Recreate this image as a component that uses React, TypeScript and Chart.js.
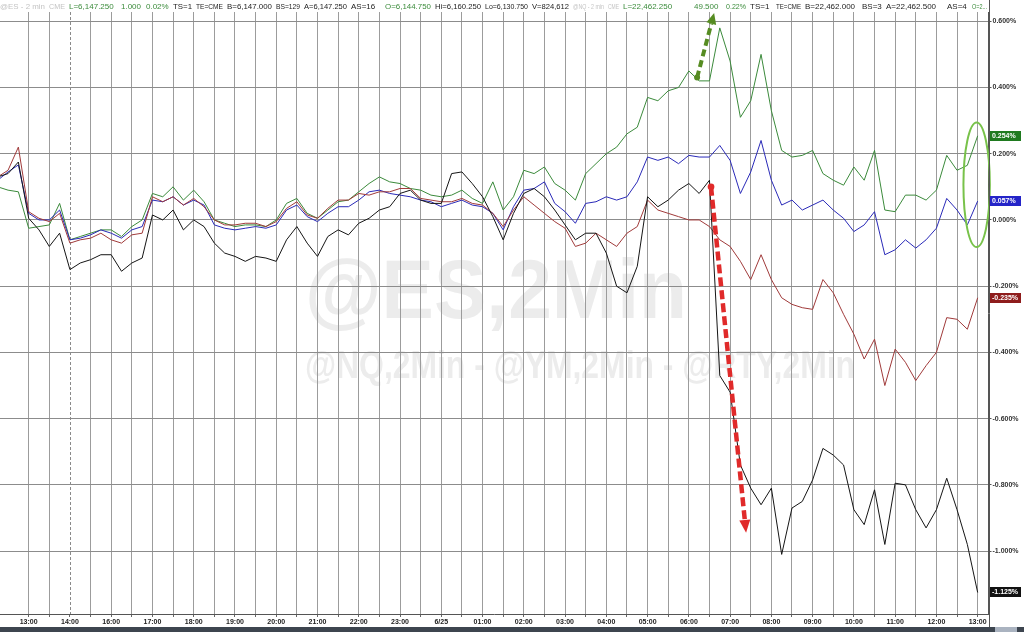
import React, { useEffect, useRef } from "react";
import { Chart, registerables } from "chart.js";

Chart.register(...registerables);

// Hour labels on the time axis (one label per hour, first one at sample 3, 4 samples per hour)
const HOUR_LABELS = ["13:00", "14:00", "16:00", "17:00", "18:00", "19:00", "20:00", "21:00", "22:00", "23:00", "6/25", "01:00", "02:00", "03:00", "04:00", "05:00", "06:00", "07:00", "08:00", "09:00", "10:00", "11:00", "12:00", "13:00"];
const Y_TICKS = [0.6, 0.4, 0.2, 0, -0.2, -0.4, -0.6, -0.8, -1.0];

// % change, one value every 15 minutes
const NQ = [
  0.10, 0.09, 0.085, -0.025, -0.02, -0.015, 0.05, -0.06, -0.05, -0.04,
  -0.03, -0.03, -0.05, -0.02, 0.0, 0.08, 0.07, 0.10, 0.06, 0.09,
  0.055, 0.0, -0.01, -0.02, -0.015, -0.015, -0.02, 0.0, 0.05, 0.065,
  0.02, 0.005, 0.03, 0.055, 0.06, 0.085, 0.11, 0.13, 0.115, 0.11,
  0.095, 0.09, 0.075, 0.07, 0.075, 0.09, 0.065, 0.05, 0.115, 0.03,
  0.07, 0.15, 0.14, 0.16, 0.11, 0.09, 0.06, 0.14, 0.17, 0.20,
  0.22, 0.26, 0.28, 0.37, 0.36, 0.39, 0.40, 0.45, 0.42, 0.42,
  0.58, 0.48, 0.31, 0.36, 0.50, 0.33, 0.21, 0.19, 0.195, 0.21,
  0.14, 0.12, 0.105, 0.16, 0.12, 0.21, 0.03, 0.025, 0.075, 0.075,
  0.06, 0.09, 0.195, 0.15, 0.165, 0.254,
];
const ES = [
  0.12, 0.145, 0.166, 0.02, 0.0, 0.0, 0.03, -0.06, -0.055, -0.045,
  -0.03, -0.04, -0.055, -0.03, -0.02, 0.06, 0.055, 0.07, 0.045, 0.06,
  0.045, -0.015, -0.025, -0.03, -0.025, -0.02, -0.025, -0.015, 0.03, 0.045,
  0.01, -0.005, 0.02, 0.04, 0.04, 0.06, 0.085, 0.09, 0.08, 0.075,
  0.07, 0.06, 0.055, 0.04, 0.05, 0.06, 0.045, 0.04, 0.02, -0.03,
  0.04, 0.09, 0.095, 0.115, 0.05, 0.025, -0.01, 0.05, 0.055, 0.07,
  0.06, 0.07, 0.115, 0.19, 0.18, 0.19, 0.17, 0.195, 0.19, 0.19,
  0.225, 0.18, 0.08, 0.145, 0.24, 0.12, 0.045, 0.06, 0.03, 0.045,
  0.06, 0.03, 0.005, -0.035, -0.015, 0.025, -0.105, -0.09, -0.06, -0.085,
  -0.06, -0.025, 0.065, 0.03, -0.015, 0.057,
];
const YM = [
  0.13, 0.15, 0.22, 0.025, 0.005, -0.005, 0.02, -0.07, -0.06, -0.055,
  -0.04, -0.06, -0.07, -0.045, -0.04, 0.07, 0.055, 0.07, 0.045, 0.065,
  0.04, 0.0, -0.015, -0.015, -0.01, -0.01, -0.02, -0.005, 0.035, 0.055,
  0.015, 0.005, 0.035, 0.06, 0.06, 0.08, 0.075, 0.085, 0.085, 0.095,
  0.095, 0.065, 0.06, 0.055, 0.055, 0.065, 0.05, 0.045, 0.02, -0.02,
  0.03, 0.07, 0.045, 0.02, -0.005, -0.025, -0.08, -0.07, -0.04, -0.06,
  -0.08, -0.04, -0.02, 0.06, 0.03, 0.02, 0.01, 0.0, 0.0, -0.02,
  -0.06, -0.08, -0.125, -0.18, -0.105, -0.18, -0.235, -0.255, -0.265, -0.27,
  -0.18, -0.22, -0.285, -0.345, -0.42, -0.36, -0.5, -0.39, -0.43, -0.485,
  -0.44, -0.40, -0.295, -0.30, -0.33, -0.235,
];
const RTY = [
  0.13, 0.14, 0.175, 0.005, -0.03, -0.08, -0.04, -0.15, -0.13, -0.12,
  -0.105, -0.105, -0.155, -0.13, -0.115, 0.015, 0.0, 0.03, -0.03, 0.0,
  -0.02, -0.07, -0.10, -0.11, -0.125, -0.11, -0.115, -0.125, -0.06, -0.02,
  -0.07, -0.11, -0.05, -0.03, -0.045, -0.01, 0.005, 0.03, 0.04, 0.08,
  0.09, 0.06, 0.05, 0.05, 0.14, 0.145, 0.11, 0.07, 0.01, -0.06,
  0.02, 0.08, 0.095, 0.07, 0.03, -0.015, -0.06, -0.04, -0.04, -0.10,
  -0.20, -0.22, -0.14, 0.07, 0.04, 0.06, 0.09, 0.11, 0.08, 0.12,
  -0.47, -0.52, -0.74, -0.81, -0.86, -0.81, -1.01, -0.87, -0.85, -0.785,
  -0.69, -0.71, -0.74, -0.875, -0.92, -0.815, -0.98, -0.795, -0.80, -0.875,
  -0.93, -0.875, -0.78, -0.875, -0.98, -1.125,
];

const FIRST_HOUR_SAMPLE = 3;
const SAMPLES_PER_HOUR = 4;
const SESSION_BREAK_SAMPLE = 7; // 14:00 dashed line

// annotations in data coordinates [sample, %]
const GREEN_ARROW = { from: [67.8, 0.43], to: [69.45, 0.625] };
const RED_ARROW = { from: [69.15, 0.10], to: [72.55, -0.945] };
const ELLIPSE = { center: [94.9, 0.106], rx: 1.28, ry: 0.188 };

const FONT = '"Liberation Sans", Arial, Helvetica, sans-serif';
const C_GREEN = "#3b8a3b";
const C_BLUE = "#2a2ab8";
const C_RED = "#a03a3a";
const C_BLACK = "#151515";
const H_GREY = "#c4c4c4";
const H_GREEN = "#3c8c3c";
const H_BLACK = "#222222";

const HEADER: [string, string, number][] = [
  ["@ES - 2 min", H_GREY, 0],
  ["CME", H_GREY, 49],
  ["L=6,147.250", H_GREEN, 69],
  ["1.000", H_GREEN, 121],
  ["0.02%", H_GREEN, 146],
  ["TS=1", H_BLACK, 173],
  ["TE=CME", H_BLACK, 196],
  ["B=6,147.000", H_BLACK, 227],
  ["BS=129", H_BLACK, 276],
  ["A=6,147.250", H_BLACK, 304],
  ["AS=16", H_BLACK, 351],
  ["O=6,144.750", H_GREEN, 385],
  ["Hi=6,160.250", H_BLACK, 435],
  ["Lo=6,130.750", H_BLACK, 485],
  ["V=824,612", H_BLACK, 532],
  ["@NQ - 2 min", H_GREY, 573],
  ["CME", H_GREY, 608],
  ["L=22,462.250", H_GREEN, 623],
  ["49.500", H_GREEN, 694],
  ["0.22%", H_GREEN, 726],
  ["TS=1", H_BLACK, 750],
  ["TE=CME", H_BLACK, 776],
  ["B=22,462.000", H_BLACK, 805],
  ["BS=3", H_BLACK, 862],
  ["A=22,462.500", H_BLACK, 886],
  ["AS=4", H_BLACK, 947],
  ["O=2...", H_GREEN, 972],
];

function drawArrow(ctx: CanvasRenderingContext2D, x1: number, y1: number, x2: number, y2: number, color: string, width: number, dash: number[], headLen: number, headW: number) {
  const ang = Math.atan2(y2 - y1, x2 - x1);
  const bx = x2 - headLen * Math.cos(ang);
  const by = y2 - headLen * Math.sin(ang);
  ctx.save();
  ctx.strokeStyle = color;
  ctx.fillStyle = color;
  ctx.lineWidth = width;
  ctx.setLineDash(dash);
  ctx.beginPath();
  ctx.moveTo(x1, y1);
  ctx.lineTo(bx, by);
  ctx.stroke();
  ctx.setLineDash([]);
  ctx.beginPath();
  ctx.moveTo(x2, y2);
  ctx.lineTo(bx + (headW / 2) * Math.sin(ang), by - (headW / 2) * Math.cos(ang));
  ctx.lineTo(bx - (headW / 2) * Math.sin(ang), by + (headW / 2) * Math.cos(ang));
  ctx.closePath();
  ctx.fill();
  ctx.beginPath();
  ctx.arc(x1, y1, width * 0.75, 0, Math.PI * 2);
  ctx.fill();
  ctx.restore();
}

export default function App() {
  const ref = useRef<HTMLCanvasElement>(null);

  useEffect(() => {
    const canvas = ref.current;
    if (!canvas) return;

    const overlay = {
      id: "overlay",
      beforeDraw(chart: any) {
        const ctx = chart.ctx as CanvasRenderingContext2D;
        ctx.save();
        ctx.fillStyle = "#ffffff";
        ctx.fillRect(0, 0, chart.width, chart.height);
        ctx.fillStyle = "#ececec";
        ctx.textAlign = "left";
        ctx.textBaseline = "alphabetic";
        ctx.font = `bold 84px ${FONT}`;
        ctx.fillText("@ES,2Min", 305, 318, 382);
        ctx.font = `bold 38px ${FONT}`;
        ctx.fillText("@NQ,2Min - @YM,2Min - @RTY,2Min", 305, 378, 550);
        ctx.restore();
      },
      beforeDatasetsDraw(chart: any) {
        const ctx = chart.ctx as CanvasRenderingContext2D;
        const xs = chart.scales.x;
        const { top, bottom } = chart.chartArea;
        const x = Math.round(xs.getPixelForValue(SESSION_BREAK_SAMPLE)) + 0.5;
        ctx.save();
        ctx.strokeStyle = "#8a8a8a";
        ctx.lineWidth = 1;
        ctx.setLineDash([3, 2]);
        ctx.beginPath();
        ctx.moveTo(x, top);
        ctx.lineTo(x, bottom);
        ctx.stroke();
        ctx.restore();
      },
      afterDatasetsDraw(chart: any) {
        const ctx = chart.ctx as CanvasRenderingContext2D;
        const xs = chart.scales.x;
        const ys = chart.scales.y;
        const px = (v: number) => xs.getPixelForValue(v);
        const py = (v: number) => ys.getPixelForValue(v);
        drawArrow(ctx, px(GREEN_ARROW.from[0]), py(GREEN_ARROW.from[1]), px(GREEN_ARROW.to[0]), py(GREEN_ARROW.to[1]), "#568c22", 4, [7, 4], 11, 10);
        drawArrow(ctx, px(RED_ARROW.from[0]), py(RED_ARROW.from[1]), px(RED_ARROW.to[0]), py(RED_ARROW.to[1]), "#e02a2a", 4.5, [9, 4], 13, 11);
        const cx = px(ELLIPSE.center[0]);
        const cy = py(ELLIPSE.center[1]);
        const rx = Math.abs(px(ELLIPSE.center[0] + ELLIPSE.rx) - cx);
        const ry = Math.abs(py(ELLIPSE.center[1] + ELLIPSE.ry) - cy);
        ctx.save();
        ctx.strokeStyle = "#78c24a";
        ctx.lineWidth = 2;
        ctx.beginPath();
        ctx.ellipse(cx, cy, rx, ry, 0, 0, Math.PI * 2);
        ctx.stroke();
        ctx.restore();
      },
      afterDraw(chart: any) {
        const ctx = chart.ctx as CanvasRenderingContext2D;
        const ys = chart.scales.y;
        const { right } = chart.chartArea;
        ctx.save();
        // header
        ctx.font = `8px ${FONT}`;
        ctx.textBaseline = "middle";
        ctx.textAlign = "left";
        HEADER.forEach(([t, c, x], i) => {
          const next = i + 1 < HEADER.length ? HEADER[i + 1][2] : x + 19;
          ctx.fillStyle = c;
          ctx.fillText(t, x, 6.5, Math.max(4, next - x - 4));
        });
        // right border line to the top
        ctx.strokeStyle = "#555555";
        ctx.lineWidth = 1;
        ctx.beginPath();
        ctx.moveTo(Math.round(right) + 0.5, 0);
        ctx.lineTo(Math.round(right) + 0.5, 627);
        ctx.stroke();
        // value tags
        const tags: [number[], string][] = [
          [NQ, "#1f7a1f"],
          [ES, "#2424c8"],
          [YM, "#8e1c1c"],
          [RTY, "#111111"],
        ];
        ctx.font = `bold 7px ${FONT}`;
        tags.forEach(([arr, c]) => {
          const v = arr[arr.length - 1];
          const y = ys.getPixelForValue(v);
          ctx.fillStyle = c;
          ctx.fillRect(Math.round(right) + 1, Math.round(y) - 5, 31, 10);
          ctx.fillStyle = "#ffffff";
          ctx.fillText(v.toFixed(3) + "%", Math.round(right) + 3, Math.round(y) + 0.5);
        });
        // bottom scroll bar
        ctx.fillStyle = "#3d454f";
        ctx.fillRect(0, 627, chart.width, 5);
        ctx.fillStyle = "#aab3c0";
        ctx.fillRect(995, 627, 22, 5);
        ctx.restore();
      },
    };

    const mk = (arr: number[]) => arr.map((y, i) => ({ x: i, y }));

    const chart = new Chart(canvas, {
      type: "line",
      data: {
        datasets: [
          { label: "@RTY", data: mk(RTY), borderColor: C_BLACK, borderWidth: 1, pointRadius: 0, tension: 0 },
          { label: "@YM", data: mk(YM), borderColor: C_RED, borderWidth: 1, pointRadius: 0, tension: 0 },
          { label: "@ES", data: mk(ES), borderColor: C_BLUE, borderWidth: 1, pointRadius: 0, tension: 0 },
          { label: "@NQ", data: mk(NQ), borderColor: C_GREEN, borderWidth: 1, pointRadius: 0, tension: 0 },
        ],
      },
      options: {
        responsive: false,
        maintainAspectRatio: false,
        devicePixelRatio: 1,
        animation: false,
        layout: { padding: { top: 12, left: 0, right: 0, bottom: 0 } },
        plugins: { legend: { display: false }, tooltip: { enabled: false }, title: { display: false } },
        scales: {
          x: {
            type: "linear",
            min: 0.22,
            max: 96.05,
            afterBuildTicks: (scale: any) => {
              const t = [];
              for (let v = FIRST_HOUR_SAMPLE; v <= NQ.length - 1; v += SAMPLES_PER_HOUR / 2) t.push({ value: v });
              scale.ticks = t;
            },
            afterFit: (scale: any) => {
              scale.height = 18;
            },
            ticks: {
              autoSkip: false,
              maxRotation: 0,
              minRotation: 0,
              padding: 1,
              color: "#222222",
              font: { size: 7, weight: "bold", family: FONT },
              callback: (value: any) => {
                const k = (Number(value) - FIRST_HOUR_SAMPLE) / SAMPLES_PER_HOUR;
                return Number.isInteger(k) ? HOUR_LABELS[k] : "";
              },
            },
            grid: {
              color: (c: any) => (c.tick && c.tick.value === SESSION_BREAK_SAMPLE ? "rgba(0,0,0,0)" : "#9c9c9c"),
              lineWidth: 1,
              tickLength: 3,
              tickColor: "#666666",
            },
            border: { display: true, color: "#555555" },
          },
          y: {
            type: "linear",
            position: "right",
            min: -1.19,
            max: 0.628,
            afterBuildTicks: (scale: any) => {
              scale.ticks = Y_TICKS.map((v) => ({ value: v }));
            },
            afterFit: (scale: any) => {
              scale.width = 35.5;
            },
            ticks: {
              padding: 1,
              color: "#333333",
              font: { size: 7, weight: "bold", family: FONT },
              callback: (value: any) => Number(value).toFixed(3) + "%",
            },
            grid: { color: "#8c8c8c", lineWidth: 1, tickLength: 3, tickColor: "#555555" },
            border: { display: true, color: "#555555" },
          },
        },
      },
      plugins: [overlay],
    } as any);

    return () => chart.destroy();
  }, []);

  return (
    <div style={{ position: "absolute", left: 0, top: 0, width: 1024, height: 632, background: "#ffffff" }}>
      <canvas ref={ref} width={1024} height={632} style={{ display: "block" }} />
    </div>
  );
}
